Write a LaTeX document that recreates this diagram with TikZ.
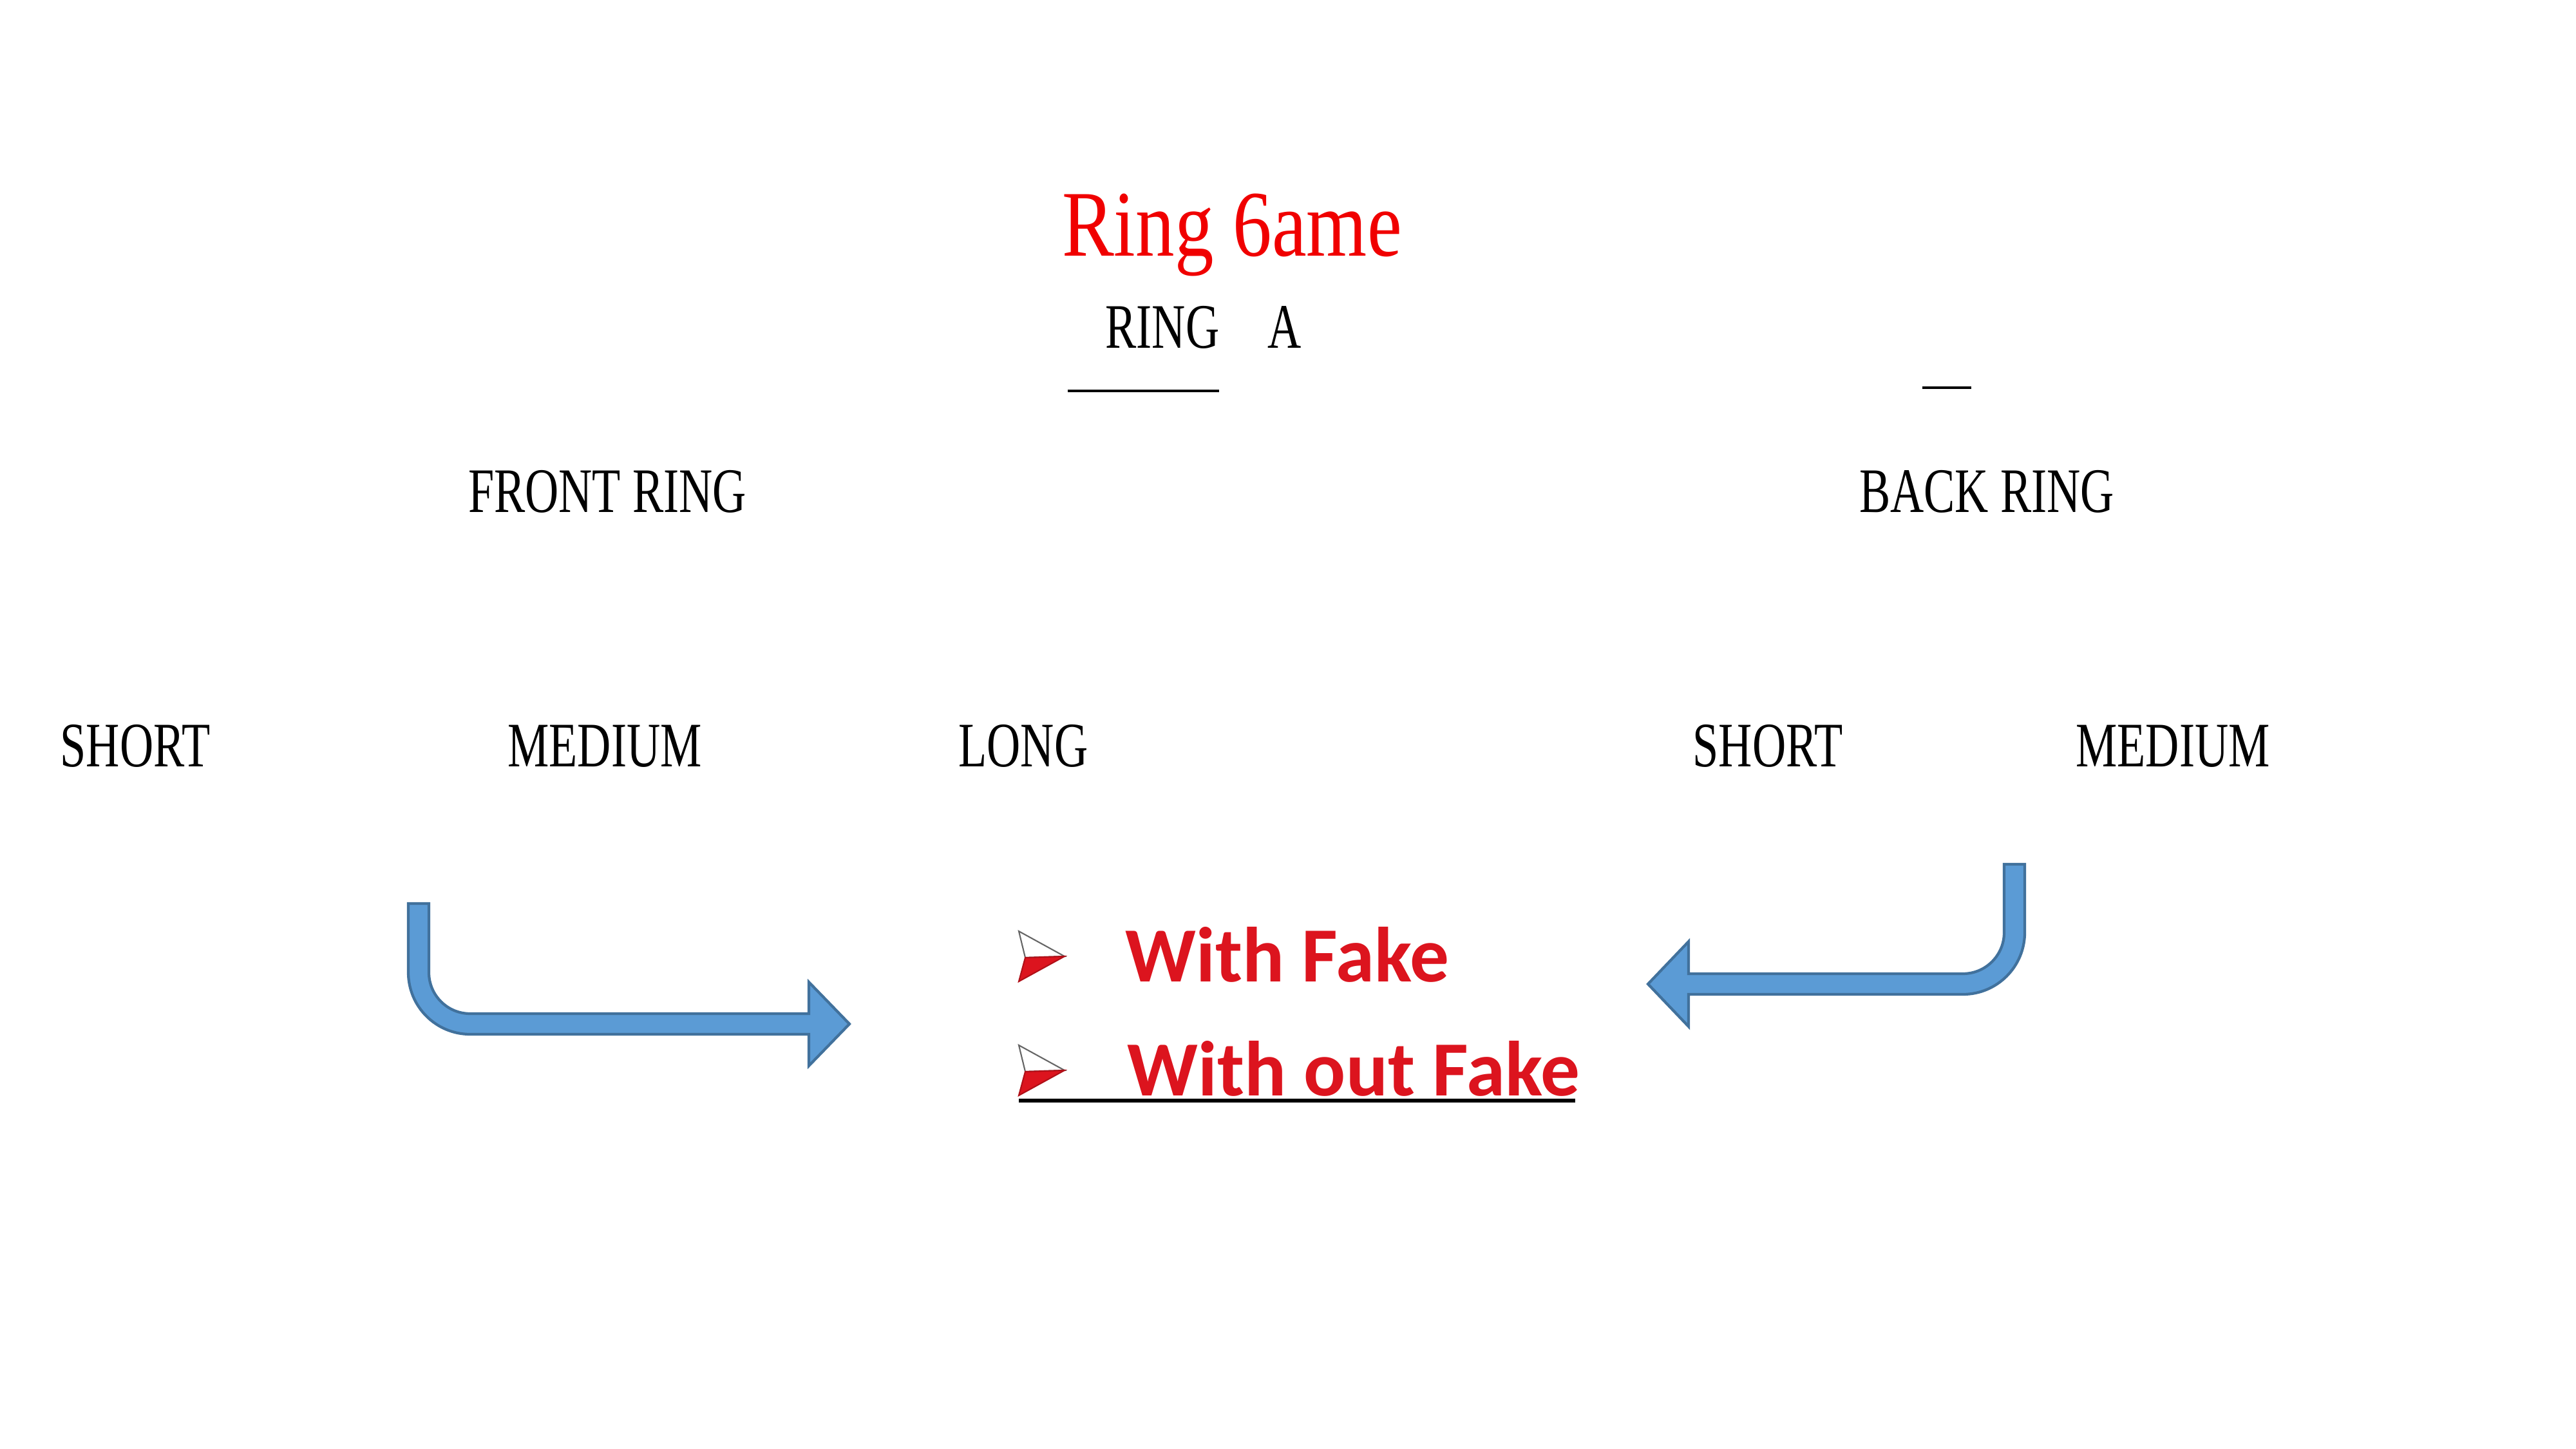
\documentclass[tikz,border=0pt]{standalone}
\usepackage{fontspec}
\usepackage{tikz}
\usetikzlibrary{positioning}

\newfontfamily\ringfont[FakeStretch=0.735]{Liberation Serif}
\newfontfamily\gamefont[FakeStretch=0.83]{Liberation Serif}
\newfontfamily\choicefont{Carlito}

\definecolor{titlered}{HTML}{F00000}
\definecolor{choicered}{HTML}{DC141E}
\definecolor{arrowfill}{HTML}{5B9BD5}
\definecolor{arrowedge}{HTML}{41719C}

\begin{document}
\begin{tikzpicture}[
    ringlabel/.style={inner sep=0pt, anchor=base, font=\ringfont\fontsize{28}{30}\selectfont},
    titletext/.style={inner sep=0pt, anchor=base, text=titlered, font=\gamefont\fontsize{41.5}{44}\selectfont},
    choicetext/.style={inner sep=0pt, anchor=base west, text=choicered, font=\choicefont\bfseries\fontsize{34.5}{38}\selectfont},
    bentarrow/.style={fill=arrowfill, draw=arrowedge, line width=1.2pt},
    fakebullet/.pic={
        \filldraw[fill=white, draw=black!60, line width=0.6pt] (0,0.39) -- (0.71,0) -- (0.10,-0.02) -- cycle;
        \filldraw[fill=choicered, draw=choicered!80!black, line width=0.6pt] (0.10,-0.02) -- (0.71,0) -- (0,-0.39) -- cycle;
    }
]
\useasboundingbox (0,0) rectangle (40,-22.5);

% Title
\node[titletext] (title) at (19.13,-3.98) {Ring 6ame};
\node[ringlabel] (ring) at (18.05,-5.41) {RING};
\node[ringlabel] (ringa) at (19.95,-5.41) {A};
\draw[line width=1.2pt] (16.58,-6.07) -- (18.93,-6.07);
\draw[line width=1.2pt] (29.85,-6.02) -- (30.61,-6.02);

% Rings
\node[ringlabel] (front) at (9.43,-7.96) {FRONT RING};
\node[ringlabel] (back) at (30.85,-7.96) {BACK RING};

% Lengths
\node[ringlabel] (fshort) at (2.10,-11.91) {SHORT};
\node[ringlabel] (fmedium) at (9.39,-11.91) {MEDIUM};
\node[ringlabel] (flong) at (15.89,-11.91) {LONG};
\node[ringlabel] (bshort) at (27.45,-11.91) {SHORT};
\node[ringlabel] (bmedium) at (33.74,-11.91) {MEDIUM};

% Bent arrows
\draw[bentarrow] (6.34,-14.03) -- (6.66,-14.03) -- (6.66,-15.10)
    arc[start angle=180, end angle=270, radius=0.64] -- (12.56,-15.74) -- (12.56,-15.25)
    -- (13.19,-15.90) -- (12.56,-16.55) -- (12.56,-16.06) -- (7.30,-16.06)
    arc[start angle=270, end angle=180, radius=0.96] -- cycle;
\draw[bentarrow] (31.12,-13.42) -- (31.44,-13.42) -- (31.44,-14.48)
    arc[start angle=0, end angle=-90, radius=0.96] -- (26.22,-15.44) -- (26.22,-15.94)
    -- (25.59,-15.28) -- (26.22,-14.62) -- (26.22,-15.12) -- (30.48,-15.12)
    arc[start angle=-90, end angle=0, radius=0.64] -- cycle;

% Choices
\pic at (15.82,-14.85) {fakebullet};
\node[choicetext] (withfake) at (17.47,-15.25) {With Fake};
\pic at (15.82,-16.62) {fakebullet};
\node[choicetext] (withoutfake) at (17.50,-17.01) {With out Fake};
\draw[line width=1.5pt] (15.82,-17.09) -- (24.46,-17.09);

\end{tikzpicture}
\end{document}
